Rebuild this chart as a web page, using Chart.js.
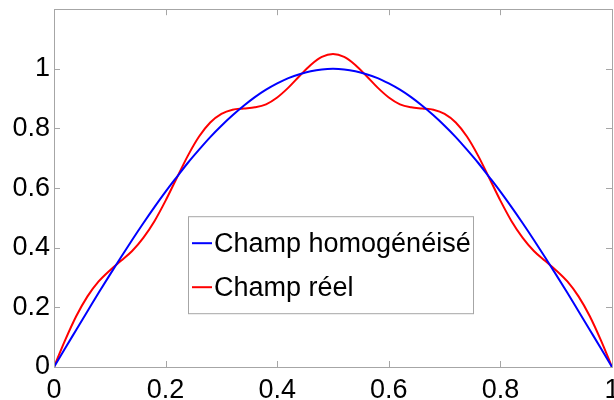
<!DOCTYPE html>
<html>
<head>
<meta charset="utf-8">
<script src="https://cdn.jsdelivr.net/npm/chart.js@4"></script>
<style>
  html, body { margin: 0; padding: 0; background: #fff; overflow: hidden; }
  #wrap { width: 640px; height: 430px; margin-top: -11px; }
</style>
</head>
<body>
<div id="wrap"><canvas id="fieldChart" width="640" height="430"></canvas></div>
<script>
// x positions (0 .. 1)
const xValues = [0, 0.02, 0.04, 0.06, 0.08, 0.10, 0.12, 0.14, 0.16, 0.18,
    0.20, 0.22, 0.24, 0.26, 0.28, 0.30, 0.32, 0.34, 0.36, 0.38,
    0.40, 0.42, 0.44, 0.46, 0.48, 0.50, 0.52, 0.54, 0.56, 0.58,
    0.60, 0.62, 0.64, 0.66, 0.68, 0.70, 0.72, 0.74, 0.76, 0.78,
    0.80, 0.82, 0.84, 0.86, 0.88, 0.90, 0.92, 0.94, 0.96, 0.98, 1.00];

// Champ homogénéisé (blue)
const homogValues = [0, 0.063, 0.125, 0.187, 0.249, 0.309, 0.368, 0.426, 0.482, 0.536,
    0.588, 0.637, 0.685, 0.729, 0.771, 0.809, 0.844, 0.876, 0.905, 0.930,
    0.951, 0.969, 0.982, 0.992, 0.998, 1.000, 0.998, 0.992, 0.982, 0.969,
    0.951, 0.930, 0.905, 0.876, 0.844, 0.809, 0.771, 0.729, 0.685, 0.637,
    0.588, 0.536, 0.482, 0.426, 0.368, 0.309, 0.249, 0.187, 0.125, 0.063, 0];

// Champ réel (red)
const realValues = [0, 0.090, 0.171, 0.237, 0.287, 0.324, 0.356, 0.389, 0.433, 0.489,
    0.558, 0.634, 0.709, 0.773, 0.820, 0.849, 0.863, 0.867, 0.871, 0.881,
    0.904, 0.937, 0.976, 1.013, 1.040, 1.050, 1.040, 1.013, 0.976, 0.937,
    0.904, 0.881, 0.871, 0.867, 0.863, 0.849, 0.820, 0.773, 0.709, 0.634,
    0.558, 0.489, 0.433, 0.389, 0.356, 0.324, 0.287, 0.237, 0.171, 0.090, 0];

const seriesNames = ['Champ homogénéisé', 'Champ réel'];
const seriesColors = ['#0000ff', '#ff0000'];

const xTicks = [0, 0.2, 0.4, 0.6, 0.8, 1];
const xTickLabels = ['0', '0.2', '0.4', '0.6', '0.8', '1'];
const yTicks = [0, 0.2, 0.4, 0.6, 0.8, 1];
const yTickLabels = ['0', '0.2', '0.4', '0.6', '0.8', '1'];

const FONT = "'Liberation Sans', Arial, sans-serif";
const AXIS_GRAY = '#a6a6a6';

function toPoints(ys) {
    return xValues.map((x, i) => ({ x: x, y: ys[i] }));
}

// box around the axes, inward tick marks and the boxed legend
const matlabFrame = {
    id: 'matlabFrame',
    afterDatasetsDraw(chart) {
        const { ctx, chartArea: a, scales } = chart;
        const tl = 6;
        ctx.save();
        ctx.strokeStyle = AXIS_GRAY;
        ctx.lineWidth = 1;
        ctx.beginPath();
        xTicks.forEach(v => {
            const px = Math.round(scales.x.getPixelForValue(v)) + 0.5;
            ctx.moveTo(px, a.bottom); ctx.lineTo(px, a.bottom - tl);
            ctx.moveTo(px, a.top); ctx.lineTo(px, a.top + tl);
        });
        yTicks.forEach(v => {
            const py = Math.round(scales.y.getPixelForValue(v)) + 0.5;
            ctx.moveTo(a.left, py); ctx.lineTo(a.left + tl, py);
            ctx.moveTo(a.right, py); ctx.lineTo(a.right - tl, py);
        });
        ctx.stroke();
        ctx.strokeRect(Math.round(a.left) + 0.5, Math.round(a.top) + 0.5,
            Math.round(a.right - a.left), Math.round(a.bottom - a.top));

        // legend, placed relative to the axes box
        const bx = a.left + 134, by = a.top + 207, bw = 285, bh = 97;
        ctx.fillStyle = '#ffffff';
        ctx.fillRect(bx, by, bw, bh);
        ctx.strokeStyle = AXIS_GRAY;
        ctx.strokeRect(bx + 0.5, by + 0.5, bw, bh);
        ctx.font = '27px ' + FONT;
        ctx.textBaseline = 'middle';
        ctx.textAlign = 'left';
        chart.data.datasets.forEach((ds, i) => {
            const y = by + 27 + i * 44;
            ctx.strokeStyle = ds.borderColor;
            ctx.lineWidth = 2;
            ctx.beginPath();
            ctx.moveTo(bx + 4, y);
            ctx.lineTo(bx + 24, y);
            ctx.stroke();
            ctx.fillStyle = '#000000';
            ctx.fillText(ds.label, bx + 26, y + 1);
        });
        ctx.restore();
    }
};

const ctx = document.getElementById('fieldChart').getContext('2d');
const fieldChart = new Chart(ctx, {
    type: 'line',
    data: {
        datasets: [{
            label: seriesNames[0],
            data: toPoints(homogValues),
            borderColor: seriesColors[0],
            borderWidth: 2,
            pointRadius: 0,
            cubicInterpolationMode: 'monotone',
            fill: false
        }, {
            label: seriesNames[1],
            data: toPoints(realValues),
            borderColor: seriesColors[1],
            borderWidth: 2,
            pointRadius: 0,
            cubicInterpolationMode: 'monotone',
            fill: false
        }]
    },
    options: {
        responsive: false,
        animation: false,
        devicePixelRatio: 1,
        layout: { padding: { top: 20, right: 28, bottom: 0, left: 0 } },
        plugins: {
            legend: { display: false },
            tooltip: { enabled: false }
        },
        scales: {
            x: {
                type: 'linear',
                min: 0,
                max: 1,
                afterBuildTicks: scale => { scale.ticks = xTicks.map(v => ({ value: v })); },
                afterFit: scale => { scale.height = 52; },
                grid: { display: false, drawTicks: false },
                border: { display: false },
                ticks: {
                    padding: 7,
                    color: '#000000',
                    font: { family: FONT, size: 27 },
                    maxRotation: 0,
                    callback: (v, i) => xTickLabels[i]
                }
            },
            y: {
                type: 'linear',
                min: 0,
                max: 1.2,
                afterBuildTicks: scale => { scale.ticks = yTicks.map(v => ({ value: v })); },
                afterFit: scale => { scale.width = 54; },
                grid: { display: false, drawTicks: false },
                border: { display: false },
                ticks: {
                    padding: 4,
                    color: '#000000',
                    font: { family: FONT, size: 27 },
                    callback: (v, i) => yTickLabels[i]
                }
            }
        }
    },
    plugins: [matlabFrame]
});
</script>
</body>
</html>
